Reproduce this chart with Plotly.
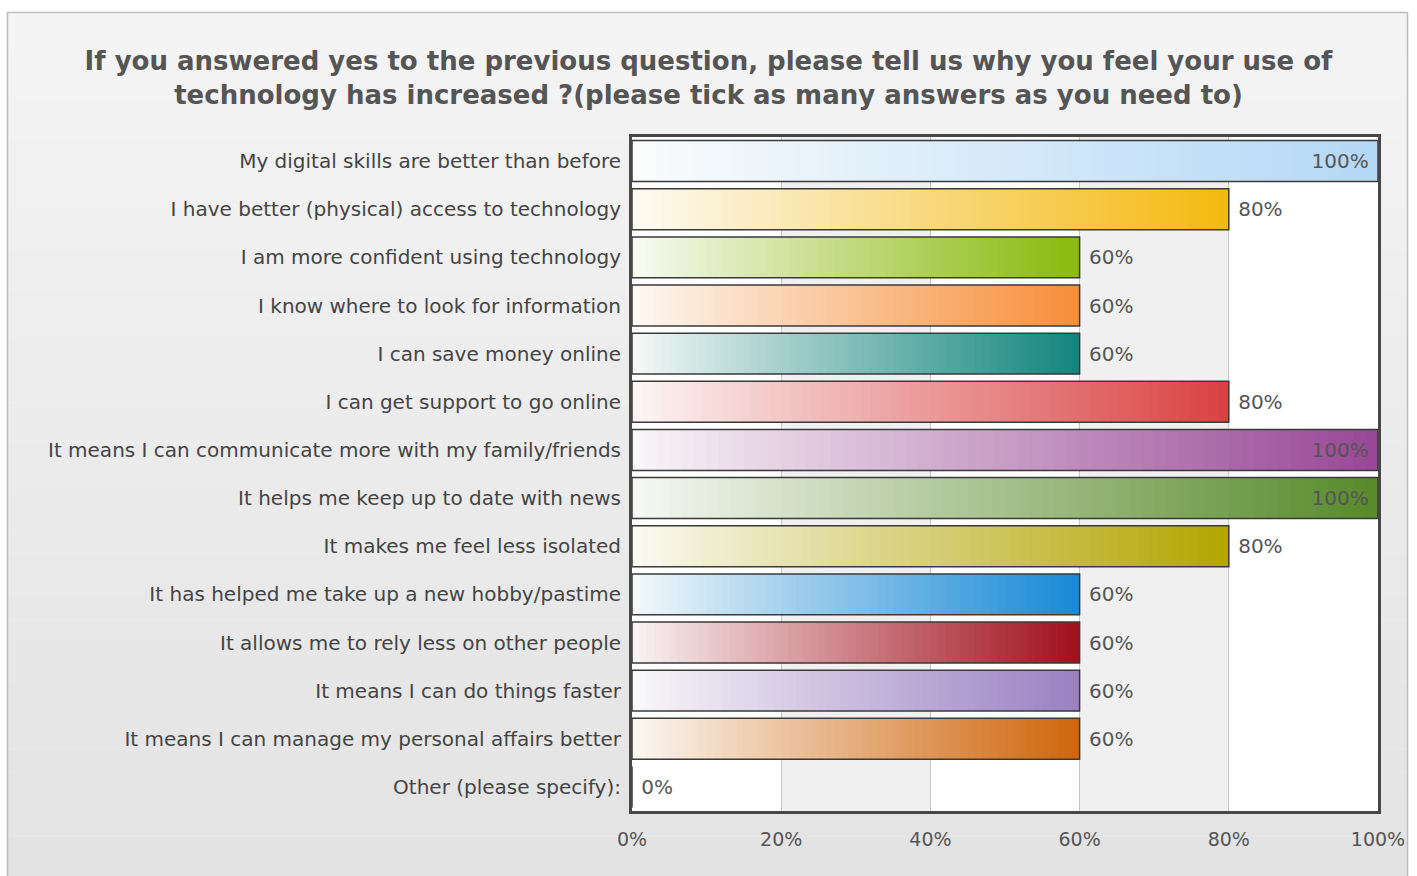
import plotly.graph_objects as go

categories = [
    "My digital skills are better than before",
    "I have better (physical) access to technology",
    "I am more confident using technology",
    "I know where to look for information",
    "I can save money online",
    "I can get support to go online",
    "It means I can communicate more with my family/friends",
    "It helps me keep up to date with news",
    "It makes me feel less isolated",
    "It has helped me take up a new hobby/pastime",
    "It allows me to rely less on other people",
    "It means I can do things faster",
    "It means I can manage my personal affairs better",
    "Other (please specify):",
]
values = [100, 80, 60, 60, 60, 80, 100, 100, 80, 60, 60, 60, 60, 0]
bar_colors = [
    "#b3d8f7", "#f5b90f", "#89ba0c", "#f78e38", "#13857d", "#da4141", "#984796",
    "#578a2a", "#b3a500", "#1689d6", "#a00f1c", "#9a80c2", "#d0660b", "#888888",
]
x_ticks = [0, 20, 40, 60, 80, 100]
title = ("If you answered yes to the previous question, please tell us why you feel your use of<br>"
         "technology has increased ?(please tick as many answers as you need to)")

W, H = 1417, 876
L, R, T, B = 632, 39, 137, 65
PW, PH = W - L - R, H - T - B


def px_to_paper_x(px):
    return (px - L) / PW


def px_to_paper_y(py):
    return (H - B - py) / PH


def hex_rgb(h):
    h = h.lstrip("#")
    return [int(h[i:i + 2], 16) for i in (0, 2, 4)]


def mix(c, t):
    r = hex_rgb(c)
    w = [253, 253, 252]
    return "rgb(%d,%d,%d)" % tuple(round(w[i] + (r[i] - w[i]) * t) for i in range(3))


fig = go.Figure()

# gradient fill: overlapping segments, each drawn from its start to the bar end
N = 60
for k in range(N):
    t = (k + 0.5) / N
    fig.add_trace(go.Bar(
        y=categories,
        x=[v * (N - k) / N for v in values],
        base=[v * k / N for v in values],
        orientation="h",
        marker=dict(color=[mix(c, 0.03 + 0.97 * t ** 0.95) for c in bar_colors], line=dict(width=0)),
        hoverinfo="skip",
        showlegend=False,
    ))

fig.add_trace(go.Bar(
    y=categories,
    x=values,
    base=[0] * len(values),
    orientation="h",
    marker=dict(color="rgba(0,0,0,0)", line=dict(color="#3a3a3a", width=1.5)),
    text=[f"{v}%\u00a0" if v >= 100 else f"\u00a0{v}%" for v in values],
    textposition=["inside" if v >= 100 else "outside" for v in values],
    insidetextanchor="end",
    textfont=dict(family="DejaVu Sans", size=20, color="#555555"),
    constraintext="none",
    cliponaxis=False,
    showlegend=False,
))

shapes = []
# outer frame with vertical gradient
nb = 40
top_px, bot_px = 12, 880
for i in range(nb):
    y0 = top_px + (bot_px - top_px) * i / nb
    y1 = top_px + (bot_px - top_px) * (i + 1) / nb
    g = round(244 - (244 - 227) * i / (nb - 1))
    shapes.append(dict(type="rect", xref="paper", yref="paper", layer="below",
                       x0=px_to_paper_x(8), x1=px_to_paper_x(1407),
                       y0=px_to_paper_y(y1), y1=px_to_paper_y(y0) + 0.0005,
                       fillcolor=f"rgb({g},{g},{g})", line=dict(width=0)))
shapes.append(dict(type="rect", xref="paper", yref="paper", layer="below",
                   x0=px_to_paper_x(7.5), x1=px_to_paper_x(1407.5),
                   y0=px_to_paper_y(bot_px), y1=px_to_paper_y(12.5),
                   fillcolor="rgba(0,0,0,0)", line=dict(color="#bdbdbd", width=1.5)))
# alternating plot columns
for i in range(len(x_ticks) - 1):
    shapes.append(dict(type="rect", xref="x", yref="paper", layer="below",
                       x0=x_ticks[i], x1=x_ticks[i + 1], y0=0, y1=1,
                       fillcolor="#ffffff" if i % 2 == 0 else "#f0f0f0", line=dict(width=0)))

fig.update_layout(
    width=W, height=H,
    margin=dict(l=L, r=R, t=T, b=B, pad=0),
    paper_bgcolor="#ffffff",
    plot_bgcolor="#ffffff",
    barmode="overlay",
    bargap=0.15,
    shapes=shapes,
    title=dict(text=title, x=0.5, xanchor="center", y=1 - 70 / H, yanchor="middle",
               font=dict(family="DejaVu Sans", size=26, color="#555555", weight="bold")),
    font=dict(family="DejaVu Sans", color="#555555"),
    xaxis=dict(range=[0, 100], tickvals=x_ticks, ticktext=[f"{v}%" for v in x_ticks],
               showgrid=True, gridcolor="#c4c4c4", gridwidth=1, zeroline=False,
               showline=True, linecolor="#474747", linewidth=3, mirror=True,
               ticks="", ticklabelstandoff=9, tickfont=dict(size=19, color="#555555"),
               fixedrange=True),
    yaxis=dict(autorange="reversed", showgrid=False, zeroline=False,
               showline=True, linecolor="#474747", linewidth=3, mirror=True,
               ticks="", ticklabelstandoff=4, tickfont=dict(size=20, color="#444444"),
               fixedrange=True),
)

fig.write_html("out.html")
